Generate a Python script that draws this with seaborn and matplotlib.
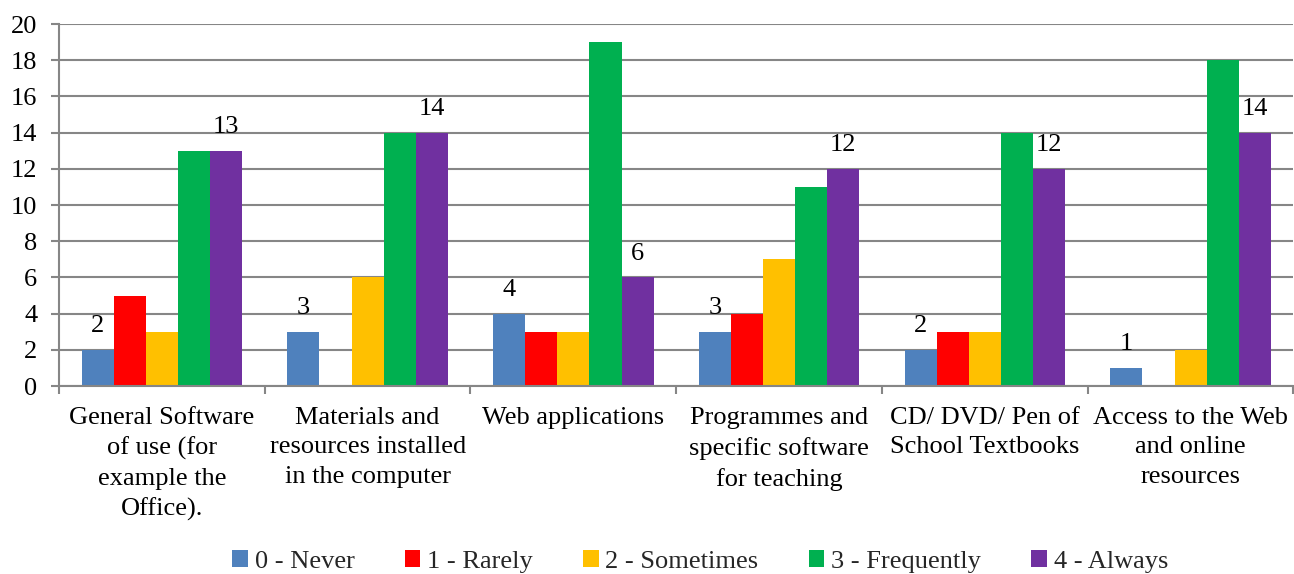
import matplotlib
matplotlib.use("Agg")
import matplotlib.pyplot as plt
import seaborn as sns
import pandas as pd
from matplotlib.patches import Patch

categories = [
    "General Software\nof use (for\nexample the\nOffice).",
    "Materials and\nresources installed\nin the computer",
    "Web applications",
    "Programmes and\nspecific software\nfor teaching",
    "CD/ DVD/ Pen of\nSchool Textbooks",
    "Access to the Web\nand online\nresources",
]
levels = ["0 - Never", "1 - Rarely", "2 - Sometimes", "3 - Frequently", "4 - Always"]
never = [2, 3, 4, 3, 2, 1]
rarely = [5, 0, 3, 4, 3, 0]
sometimes = [3, 6, 3, 7, 3, 2]
frequently = [13, 14, 19, 11, 14, 18]
always = [13, 14, 6, 12, 12, 14]
colors = ["#4F81BD", "#FF0000", "#FFC000", "#00B050", "#7030A0"]

series = [never, rarely, sometimes, frequently, always]
rows = []
for lvl, vals in zip(levels, series):
    for cat, v in zip(categories, vals):
        rows.append({"category": cat, "level": lvl, "count": v})
df = pd.DataFrame(rows)

sns.set_theme(style="white")
plt.rcParams["font.family"] = ["Liberation Serif", "DejaVu Serif"]

FS = 19

fig = plt.figure(figsize=(12.94, 5.74), dpi=100)
ax = fig.add_axes([0.0456, 0.3275, 0.954, 0.6305])

sns.barplot(data=df, x="category", y="count", hue="level", order=categories,
            hue_order=levels, palette=colors, width=0.78, saturation=1,
            errorbar=None, legend=False, ax=ax, linewidth=0)

ax.set_xlim(-0.5, len(categories) - 0.5)
ax.set_ylim(0, 20)
ax.set_yticks(range(0, 21, 2))
ax.set_xlabel("")
ax.set_ylabel("")

grid_c = "#868686"
ax.yaxis.grid(True, color=grid_c, linewidth=1.5)
ax.set_axisbelow(True)
for s in ["top", "right"]:
    ax.spines[s].set_visible(False)
for s in ["left", "bottom"]:
    ax.spines[s].set_color(grid_c)
    ax.spines[s].set_linewidth(1.5)

ax.tick_params(axis="y", which="major", length=5.5, width=1.5, color=grid_c,
               labelsize=FS, pad=10, left=True, labelcolor="black")
ax.tick_params(axis="x", which="major", length=0, labelsize=FS, pad=15,
               labelcolor="black")
ax.set_xticks([i - 0.5 for i in range(len(categories) + 1)], minor=True)
ax.tick_params(axis="x", which="minor", length=6, width=1.5, color=grid_c, bottom=True)
for lbl in ax.get_xticklabels():
    lbl.set_horizontalalignment("center")
    lbl.set_multialignment("center")
    lbl.set_linespacing(1.45)

# value labels on the first and last series
containers = ax.containers
for idx in (0, len(levels) - 1):
    c = containers[idx]
    vals = series[idx]
    for bar, v in zip(c, vals):
        x = bar.get_x() + bar.get_width() / 2
        ax.annotate(str(v), (x, v), xytext=(0, 9), textcoords="offset points",
                    ha="center", va="bottom", fontsize=FS, color="black")

handles = [Patch(facecolor=c, edgecolor="none") for c in colors]
fig.legend(handles, levels, loc="center", bbox_to_anchor=(0.541, 0.022), ncol=5,
           frameon=False, fontsize=FS, handlelength=0.6, handleheight=0.6,
           handletextpad=0.25, columnspacing=1.9)

fig.savefig("out.png", dpi=100)
